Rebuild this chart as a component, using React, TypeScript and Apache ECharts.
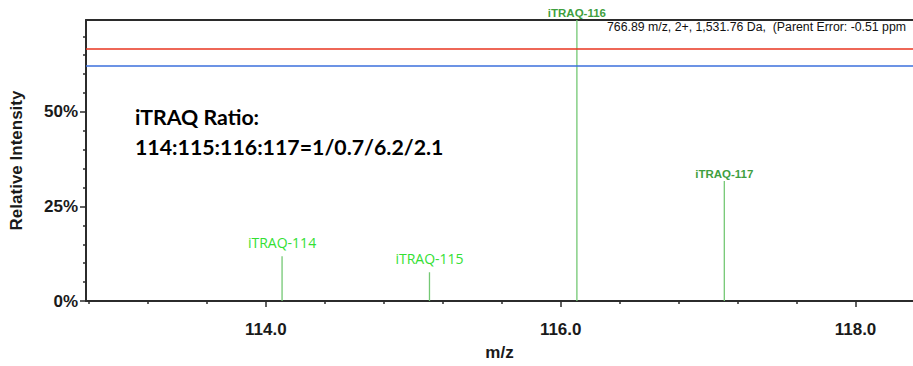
import React, { useEffect, useRef } from "react";
import * as echarts from "echarts";

// m/z of each reporter peak and relative intensity (%)
const peakMz = [114.11, 115.11, 116.11, 117.11];
const peakIntensity = [11.8, 7.6, 100, 31.7];
const peakLabels = ["iTRAQ-114", "iTRAQ-115", "iTRAQ-116", "iTRAQ-117"];
const labelBold = [false, false, true, true];

const xMajorTicks = [114, 116, 118];
const xMinorTicks = [112.8, 113.2, 113.6, 114.4, 114.8, 115.2, 115.6, 116.4, 116.8, 117.2, 117.6, 118.4];
const yMajorTicks = [0, 25, 50];
const yMinorTicks = [5, 10, 15, 20, 30, 35, 40, 45, 55, 60, 65, 70];

const xRange = [112.78, 118.39];
const yRange = [0, 74.3];

const redLineValue = 66.8;
const blueLineValue = 62.2;

const headerText = "766.89 m/z, 2+, 1,531.76 Da,  (Parent Error: -0.51 ppm";
const ratioTitle = "iTRAQ Ratio:";
const ratioText = "114:115:116:117=1/0.7/6.2/2.1";

export default function App() {
  const ref = useRef<HTMLDivElement>(null);
  useEffect(() => {
    if (!ref.current) return;
    const chart = echarts.init(ref.current, null, { renderer: "svg" });
    const axisColor = "#2b2b2b";
    const tickFont = { fontFamily: "Liberation Sans, Arial", fontWeight: "bold" as const, fontSize: 17, color: "#1a1a1a" };
    chart.setOption({
      animation: false,
      backgroundColor: "#ffffff",
      grid: { left: 86, right: 0, top: 20, bottom: 62, containLabel: false },
      xAxis: [
        {
          type: "value",
          min: xRange[0],
          max: xRange[1],
          position: "bottom",
          axisLine: { show: true, lineStyle: { color: axisColor, width: 2 } },
          axisTick: { show: true, customValues: xMajorTicks, length: 6, lineStyle: { color: axisColor, width: 1.5 } },
          axisLabel: {
            customValues: xMajorTicks,
            formatter: (v: number) => v.toFixed(1),
            margin: 20,
            ...tickFont,
          },
          splitLine: { show: false },
          name: "m/z",
          nameLocation: "middle",
          nameGap: 43,
          nameTextStyle: { ...tickFont, fontSize: 17 },
        },
        {
          type: "value",
          min: xRange[0],
          max: xRange[1],
          position: "top",
          axisLine: { show: true, onZero: false, lineStyle: { color: axisColor, width: 2 } },
          axisTick: { show: false },
          axisLabel: { show: false },
          splitLine: { show: false },
        },
        {
          type: "value",
          min: xRange[0],
          max: xRange[1],
          position: "bottom",
          axisLine: { show: false },
          axisTick: { show: true, customValues: xMinorTicks, length: 3, lineStyle: { color: axisColor, width: 1.5 } },
          axisLabel: { show: false },
          splitLine: { show: false },
        },
      ],
      yAxis: [
        {
          type: "value",
          min: yRange[0],
          max: yRange[1],
          position: "left",
          axisLine: { show: true, lineStyle: { color: axisColor, width: 2 } },
          axisTick: { show: true, customValues: yMajorTicks, length: 6, lineStyle: { color: axisColor, width: 1.5 } },
          axisLabel: {
            customValues: yMajorTicks,
            formatter: (v: number) => v + "%",
            margin: 8,
            ...tickFont,
          },
          splitLine: { show: false },
          name: "Relative Intensity",
          nameLocation: "middle",
          nameGap: 61,
          nameTextStyle: { ...tickFont, fontSize: 17 },
        },
        {
          type: "value",
          min: yRange[0],
          max: yRange[1],
          position: "left",
          axisLine: { show: false },
          axisTick: { show: true, customValues: yMinorTicks, length: 3, lineStyle: { color: axisColor, width: 1.5 } },
          axisLabel: { show: false },
          splitLine: { show: false },
        },
      ],
      series: [
        {
          type: "custom",
          xAxisIndex: 0,
          yAxisIndex: 0,
          clip: false,
          data: peakMz.map((m, i) => [m, peakIntensity[i]]),
          renderItem: (params: any, api: any) => {
            const x = api.value(0);
            const v = api.value(1);
            const base = api.coord([x, 0]);
            const top = api.coord([x, v]);
            const cs = params.coordSys;
            const yTop = Math.max(top[1], cs.y);
            const i = params.dataIndex;
            const bold = labelBold[i];
            return {
              type: "group",
              children: [
                {
                  type: "line",
                  shape: { x1: base[0], y1: base[1], x2: base[0], y2: yTop },
                  style: { stroke: "#74c874", lineWidth: 1.3 },
                },
                {
                  type: "text",
                  x: base[0],
                  y: yTop - (bold ? 1 : 7),
                  style: {
                    text: peakLabels[i],
                    fill: bold ? "#3f9f3f" : "#33e033",
                    font: bold ? "bold 11.5px 'Liberation Sans', Arial" : "14px 'Open Sans'",
                    textAlign: "center",
                    textVerticalAlign: "bottom",
                    align: "center",
                    verticalAlign: "bottom",
                  },
                },
              ],
            };
          },
          markLine: {
            symbol: "none",
            silent: true,
            label: { show: false },
            data: [
              { yAxis: redLineValue, lineStyle: { color: "#e8341f", width: 1.6, type: "solid" } },
              { yAxis: blueLineValue, lineStyle: { color: "#3b6fdc", width: 1.6, type: "solid" } },
            ],
          },
        },
      ],
      graphic: [
        {
          type: "text",
          left: 607,
          top: 21,
          style: { text: headerText, fill: "#111", font: "12.3px 'Liberation Sans', Arial" },
        },
        {
          type: "text",
          left: 135,
          top: 106,
          style: { text: ratioTitle, fill: "#000", font: "bold 21.3px Lato" },
        },
        {
          type: "text",
          left: 135,
          top: 136,
          style: { text: ratioText, fill: "#000", font: "bold 21.3px Lato" },
        },
      ],
    });
    return () => chart.dispose();
  }, []);
  return (
    <div
      ref={ref}
      style={{ position: "fixed", left: 0, top: 0, width: 913, height: 366, background: "#fff" }}
    />
  );
}
